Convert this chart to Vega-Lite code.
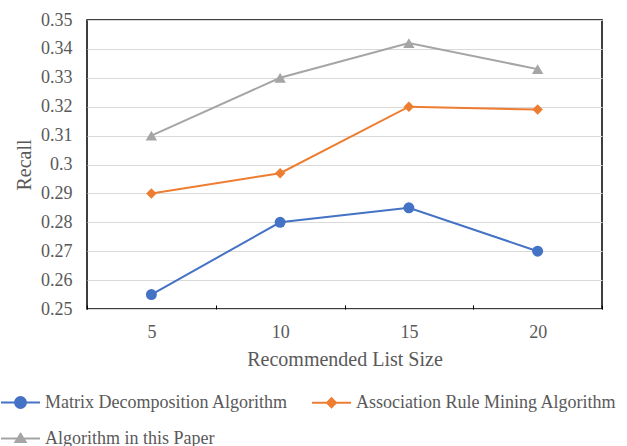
{
  "$schema": "https://vega.github.io/schema/vega-lite/v6.json",
  "width": 515,
  "height": 289,
  "autosize": "none",
  "padding": {"left": 87, "top": 20, "right": 25, "bottom": 137},
  "background": "#ffffff",
  "config": {
    "font": "Liberation Serif",
    "view": {"stroke": "#000000", "strokeWidth": 1.5},
    "axis": {"labelColor": "#595959", "titleColor": "#595959", "labelFontSize": 18, "titleFontSize": 20, "titleFontWeight": "normal", "labelFont": "Liberation Serif", "titleFont": "Liberation Serif"},
    "legend": {"labelColor": "#595959", "labelFontSize": 18, "labelFont": "Liberation Serif", "labelLimit": 0, "padding": 0}
  },
  "data": {
    "values": [
      {"size": 5, "series": "Matrix Decomposition Algorithm", "recall": 0.255},
      {"size": 10, "series": "Matrix Decomposition Algorithm", "recall": 0.28},
      {"size": 15, "series": "Matrix Decomposition Algorithm", "recall": 0.285},
      {"size": 20, "series": "Matrix Decomposition Algorithm", "recall": 0.27},
      {"size": 5, "series": "Association Rule Mining Algorithm", "recall": 0.29},
      {"size": 10, "series": "Association Rule Mining Algorithm", "recall": 0.297},
      {"size": 15, "series": "Association Rule Mining Algorithm", "recall": 0.32},
      {"size": 20, "series": "Association Rule Mining Algorithm", "recall": 0.319},
      {"size": 5, "series": "Algorithm in this Paper", "recall": 0.31},
      {"size": 10, "series": "Algorithm in this Paper", "recall": 0.33},
      {"size": 15, "series": "Algorithm in this Paper", "recall": 0.342},
      {"size": 20, "series": "Algorithm in this Paper", "recall": 0.333}
    ]
  },
  "encoding": {
    "x": {
      "field": "size",
      "type": "ordinal",
      "sort": [5, 10, 15, 20],
      "scale": {"type": "band", "paddingInner": 0, "paddingOuter": 0},
      "axis": {
        "title": "Recommended List Size",
        "labelAngle": 0,
        "tickBand": "extent",
        "tickSize": -4,
        "tickColor": "#000000",
        "tickWidth": 1,
        "domain": false,
        "grid": false,
        "labelPadding": 18,
        "titlePadding": 8
      }
    },
    "y": {
      "field": "recall",
      "type": "quantitative",
      "scale": {"domain": [0.25, 0.35], "nice": false, "zero": false},
      "axis": {
        "title": "Recall",
        "values": [0.25, 0.26, 0.27, 0.28, 0.29, 0.3, 0.31, 0.32, 0.33, 0.34, 0.35],
        "format": ".2~f",
        "domain": false,
        "ticks": false,
        "labelPadding": 15,
        "titlePadding": 6,
        "gridColor": "#d9d9d9",
        "gridWidth": 1.2
      }
    },
    "color": {
      "field": "series",
      "type": "nominal",
      "sort": ["Matrix Decomposition Algorithm", "Association Rule Mining Algorithm", "Algorithm in this Paper"],
      "scale": {
        "domain": ["Matrix Decomposition Algorithm", "Association Rule Mining Algorithm", "Algorithm in this Paper"],
        "range": ["#4472c4", "#ed7d31", "#a5a5a5"]
      },
      "legend": {
        "title": null,
        "orient": "none",
        "legendX": -87,
        "legendY": 362,
        "direction": "horizontal",
        "columns": 2,
        "columnPadding": 20,
        "rowPadding": 6,
        "labelOffset": 4,
        "symbolSize": 1521,
        "symbolStrokeWidth": 2,
        "symbolOpacity": 1,
        "symbolType": {"expr": "datum.value === 'Matrix Decomposition Algorithm' ? 'M-1,0H1M-0.28,0A0.28,0.28 0 1,0 0.28,0A0.28,0.28 0 1,0 -0.28,0Z' : datum.value === 'Association Rule Mining Algorithm' ? 'M-1,0H1M0,-0.23L0.23,0L0,0.23L-0.23,0Z' : 'M-1,0H1M0,-0.24L0.26,0.18L-0.26,0.18Z'"},
        "symbolFillColor": {"expr": "datum.value === 'Matrix Decomposition Algorithm' ? '#4472c4' : datum.value === 'Association Rule Mining Algorithm' ? '#ed7d31' : '#a5a5a5'"},
        "symbolStrokeColor": {"expr": "datum.value === 'Matrix Decomposition Algorithm' ? '#4472c4' : datum.value === 'Association Rule Mining Algorithm' ? '#ed7d31' : '#a5a5a5'"}
      }
    }
  },
  "layer": [
    {
      "mark": {"type": "line", "strokeWidth": 2}
    },
    {
      "transform": [{"filter": "datum.series === 'Matrix Decomposition Algorithm'"}],
      "mark": {"type": "point", "filled": true, "opacity": 1, "shape": "circle", "size": 120}
    },
    {
      "transform": [{"filter": "datum.series === 'Association Rule Mining Algorithm'"}],
      "mark": {"type": "point", "filled": true, "opacity": 1, "shape": "diamond", "size": 110}
    },
    {
      "transform": [{"filter": "datum.series === 'Algorithm in this Paper'"}],
      "mark": {"type": "point", "filled": true, "opacity": 1, "shape": "triangle-up", "size": 130}
    }
  ]
}
